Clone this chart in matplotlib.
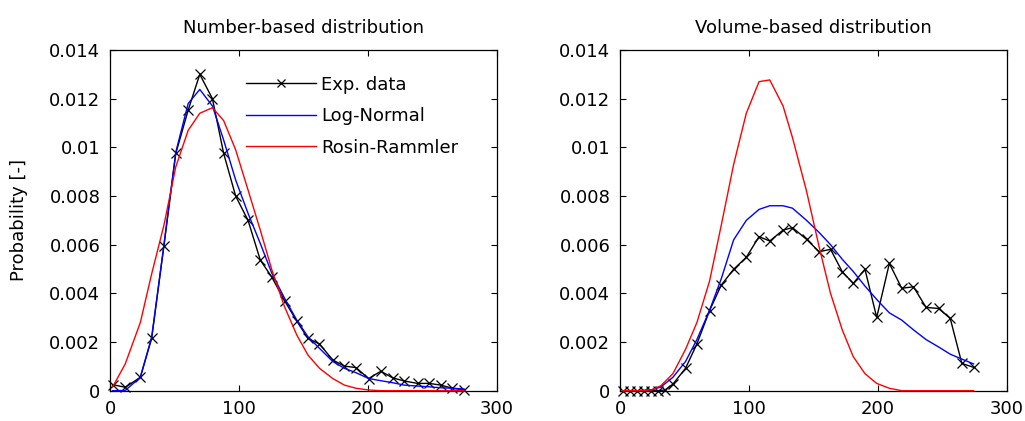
import matplotlib
matplotlib.use("Agg")
import matplotlib.pyplot as plt

plt.rcParams['font.family'] = ['DejaVu Sans']

# ---- Number-based distribution ----
num_x = [2.0, 11.8, 23.5, 32.3, 41.8, 51.0, 60.6, 69.6, 79.4, 88.1, 97.4, 107.0,
         116.5, 125.5, 135.3, 144.8, 153.4, 162.4, 172.7, 181.7, 190.7, 200.5,
         210.0, 219.0, 228.0, 238.4, 247.4, 256.4, 265.5, 274.5]
num_exp = [0.00025, 0.00014, 0.00055, 0.00215, 0.00595, 0.00975, 0.01153, 0.0130,
           0.0120, 0.00975, 0.0080, 0.0070, 0.00537, 0.00466, 0.0037, 0.00286,
           0.00215, 0.00192, 0.00126, 0.00101, 0.00095, 0.0005, 0.0008, 0.00053,
           0.0004, 0.0003, 0.0003, 0.00023, 0.0001, 0.00003]
num_lognormal = [0.0, 0.00001, 0.00055, 0.0022, 0.006, 0.0098, 0.0118, 0.01238,
                 0.0117, 0.0103, 0.00866, 0.00729, 0.00605, 0.00482, 0.0038, 0.0029,
                 0.00222, 0.00174, 0.0012, 0.00092, 0.00074, 0.0005, 0.00041, 0.00033,
                 0.00023, 0.00019, 0.00016, 0.00012, 0.0001, 0.00007]
num_rosin = [0.00015, 0.0011, 0.0028, 0.0048, 0.0068, 0.0092, 0.0107, 0.0114,
             0.01163, 0.0111, 0.0099, 0.00825, 0.0066, 0.00496, 0.00345, 0.00229,
             0.00147, 0.00092, 0.0005, 0.00023, 0.0001, 0.00003, 0.0, 0.0, 0.0,
             0.0, 0.0, 0.0, 0.0, 0.0]

# ---- Volume-based distribution ----
vol_x_exp = [2.0, 7.5, 13.0, 18.5, 24.0, 29.5, 35.0, 41.0, 50.8, 59.6, 69.4, 78.5,
             88.1, 97.9, 107.8, 116.1, 126.4, 133.7, 144.6, 154.4, 163.2, 172.3,
             180.8, 189.9, 199.0, 208.8, 218.4, 227.5, 237.3, 246.9, 256.0, 265.0,
             274.1]
vol_exp = [0.0, 0.0, 0.0, 0.0, 0.0, 0.0, 0.00003, 0.00027, 0.00092, 0.00192,
           0.00329, 0.00434, 0.00499, 0.00548, 0.00633, 0.00615, 0.0066, 0.0067,
           0.00622, 0.00571, 0.00581, 0.00489, 0.00441, 0.00499, 0.00301, 0.00523,
           0.00421, 0.00427, 0.00342, 0.00338, 0.00297, 0.00112, 0.00096]
vol_x_fit = [2.0, 13.7, 24.1, 31.6, 41.0, 50.8, 59.6, 69.4, 78.5, 88.1, 97.9, 107.8,
             116.1, 126.4, 133.7, 144.6, 154.4, 163.2, 172.3, 180.8, 189.9, 199.0,
             208.8, 218.4, 227.5, 237.3, 246.9, 256.0, 265.0, 274.1]
vol_lognormal = [0.0, 0.0, 0.00003, 0.00015, 0.00055, 0.0012, 0.0021, 0.0033,
                 0.0046, 0.0062, 0.0070, 0.00745, 0.0076, 0.0076, 0.0075, 0.0070,
                 0.0065, 0.0060, 0.0054, 0.0049, 0.0043, 0.00375, 0.0032, 0.0029,
                 0.0025, 0.0021, 0.0018, 0.0015, 0.0013, 0.0011]
vol_rosin = [0.0, 0.0, 0.00003, 0.0002, 0.0007, 0.0017, 0.0028, 0.0045, 0.0068,
             0.0093, 0.0114, 0.0127, 0.01277, 0.0117, 0.0104, 0.0082, 0.0059,
             0.0040, 0.0025, 0.0014, 0.0007, 0.0003, 0.0001, 0.0, 0.0, 0.0, 0.0,
             0.0, 0.0, 0.0]

x_ticks = [0, 100, 200, 300]
x_tick_labels = ["0", "100", "200", "300"]
y_ticks = [0, 0.002, 0.004, 0.006, 0.008, 0.01, 0.012, 0.014]
y_tick_labels = ["0", "0.002", "0.004", "0.006", "0.008", "0.01", "0.012", "0.014"]

titles = ["Number-based distribution", "Volume-based distribution"]
series_names = ["Exp. data", "Log-Normal", "Rosin-Rammler"]

FS = 13
W, H = 1025, 421
fig = plt.figure(figsize=(W / 100, H / 100), dpi=100)

ax_w = 387 / W
ax_h = 340.7 / H
ax_y = (H - 390.7) / H
ax1 = fig.add_axes([110 / W, ax_y, ax_w, ax_h])
ax2 = fig.add_axes([620 / W, ax_y, ax_w, ax_h])

line_kw = dict(lw=1.0, clip_on=False, zorder=3)
exp_kw = dict(color='black', marker='x', ms=6.5, mew=0.9, **line_kw)

h_exp, = ax1.plot(num_x, num_exp, **exp_kw)
h_ln, = ax1.plot(num_x, num_lognormal, color='#0000ff', **line_kw)
h_rr, = ax1.plot(num_x, num_rosin, color='#ff0000', **line_kw)

ax2.plot(vol_x_exp, vol_exp, **exp_kw)
ax2.plot(vol_x_fit, vol_lognormal, color='#0000ff', **line_kw)
ax2.plot(vol_x_fit, vol_rosin, color='#ff0000', **line_kw)

for ax, title in zip((ax1, ax2), titles):
    ax.set_xlim(0, 300)
    ax.set_ylim(0, 0.014)
    ax.set_xticks(x_ticks)
    ax.set_xticklabels(x_tick_labels)
    ax.set_yticks(y_ticks)
    ax.set_yticklabels(y_tick_labels)
    ax.tick_params(direction='in', top=True, right=True, length=4.5, width=0.8,
                   labelsize=FS, colors='black')
    ax.tick_params(axis='y', pad=7)
    ax.tick_params(axis='x', pad=6.5)
    for s in ax.spines.values():
        s.set_linewidth(0.9)
        s.set_color('black')
    ax.set_title(title, fontsize=FS, pad=12)

ax1.set_ylabel("Probability [-]", fontsize=FS)
ax1.yaxis.set_label_coords(-0.212, 0.5)

ax1.legend([h_exp, h_ln, h_rr], series_names, loc='upper left',
           bbox_to_anchor=(0.3505, 0.925), frameon=False, fontsize=FS,
           handlelength=3.88, handletextpad=0.3, labelspacing=0.75,
           borderpad=0, borderaxespad=0, numpoints=1, markerscale=0.8)

fig.savefig("out.png", dpi=100)
